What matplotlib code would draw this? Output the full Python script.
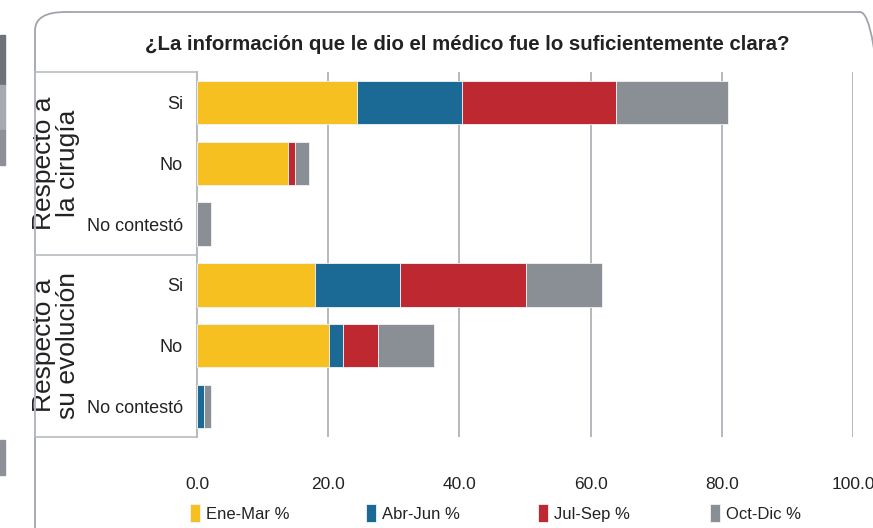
import numpy as np
import matplotlib
matplotlib.use("Agg")
import matplotlib.pyplot as plt
from matplotlib.patches import FancyBboxPatch, Rectangle
from matplotlib.lines import Line2D
import matplotlib.transforms as mtransforms

#Data, rows from top to bottom
rowLabels = ["Si", "No", "No contestó", "Si", "No", "No contestó"]
groupLabels = ["Respecto a\nla cirugía", "Respecto a\nsu evolución"]
seriesNames = ["Ene-Mar %", "Abr-Jun %", "Jul-Sep %", "Oct-Dic %"]
eneMar = [24.4, 13.8, 0.0, 18.0, 20.1, 0.0]
abrJun = [16.0, 0.0, 0.0, 13.0, 2.1, 1.0]
julSep = [23.4, 1.1, 0.0, 19.1, 5.4, 0.0]
octDic = [17.1, 2.1, 2.1, 11.6, 8.6, 1.1]
xTicks = [0, 20, 40, 60, 80, 100]

colors = ["#F6C020", "#1B6A96", "#BE2830", "#8A8F96"]
FONT = ["Liberation Sans", "DejaVu Sans"]
TXT = "#222222"

fig = plt.figure(figsize=(8.73, 5.28), dpi=100)
ax = fig.add_axes([197/873, 1-437/528, (853-197)/873, (437-72)/528])

#Stacked bars
y = np.arange(len(rowLabels))
left = np.zeros(len(rowLabels))
bars = []
for name, vals, c in zip(seriesNames, [eneMar, abrJun, julSep, octDic], colors):
    b = ax.barh(y, vals, left=left, height=0.71, color=c, edgecolor="#f4f4f4", linewidth=0.6, label=name, zorder=3)
    bars.append(b)
    left = left + np.array(vals)

ax.set_xlim(0, 100)
ax.set_ylim(len(rowLabels)-0.5, -0.5)
ax.set_xticks(xTicks)
ax.set_xticklabels([f"{t:.1f}" for t in xTicks], family=FONT, fontsize=12.5, color=TXT)
ax.set_yticks(y)
ax.set_yticklabels(rowLabels, family=FONT, fontsize=13, color=TXT)
ax.tick_params(axis="x", length=0, pad=29)
ax.tick_params(axis="y", length=0, pad=10)
ax.grid(axis="x", color="#a8acb2", linewidth=1.2, zorder=0)
for s in ["top", "right", "bottom"]:
    ax.spines[s].set_visible(False)
ax.spines["left"].set_color("#b8bcc2")
ax.spines["left"].set_linewidth(1.5)

#Category box on the left
trans = mtransforms.blended_transform_factory(fig.transFigure, ax.transData)
boxLeft = 35/873
axLeft = 197/873
for yy in [-0.5, 2.5, 5.5]:
    fig.add_artist(Line2D([boxLeft, axLeft], [yy, yy], transform=trans, color="#b8bcc2", linewidth=1.2))
fig.add_artist(Line2D([boxLeft, boxLeft], [-0.5, 5.5], transform=trans, color="#b8bcc2", linewidth=1.2))
for i, g in enumerate(groupLabels):
    ax.text(56/873, 1 + 3*i, g, transform=trans, rotation=90, ha="center", va="center",
            family=FONT, fontsize=19, color=TXT, linespacing=0.95)

#Title
fig.text(467/873, 1-45/528, "¿La información que le dio el médico fue lo suficientemente clara?",
         ha="center", va="center", family=FONT, fontsize=14.7, fontweight="bold", color=TXT)

#Legend, one slot per series like the original
legX = [190, 366, 538, 710]
for b, name, x in zip(bars, seriesNames, legX):
    fig.legend(handles=[b], labels=[name], loc="center left", bbox_to_anchor=(x/873, 1-513/528),
               frameon=False, prop={"family": FONT, "size": 12}, handlelength=0.6, handleheight=1.2,
               handletextpad=0.35, borderpad=0, borderaxespad=0, labelcolor=TXT)

#Rounded outer frame
fig.add_artist(FancyBboxPatch((35/873, -0.05), 0.98, 1-12/528+0.05, boxstyle="round,pad=0,rounding_size=0.035",
                              transform=fig.transFigure, fill=False, edgecolor="#a0a4aa", linewidth=1.3))

#Bits of neighbouring graphics at the left edge
for y0, y1, c in [(35, 85, "#6f7379"), (85, 130, "#a6aab0"), (130, 165, "#8d9197"), (440, 475, "#8d9197")]:
    fig.add_artist(Rectangle((0, 1-y1/528), 5/873, (y1-y0)/528, transform=fig.transFigure, color=c))

plt.savefig("out.png", dpi=100)
